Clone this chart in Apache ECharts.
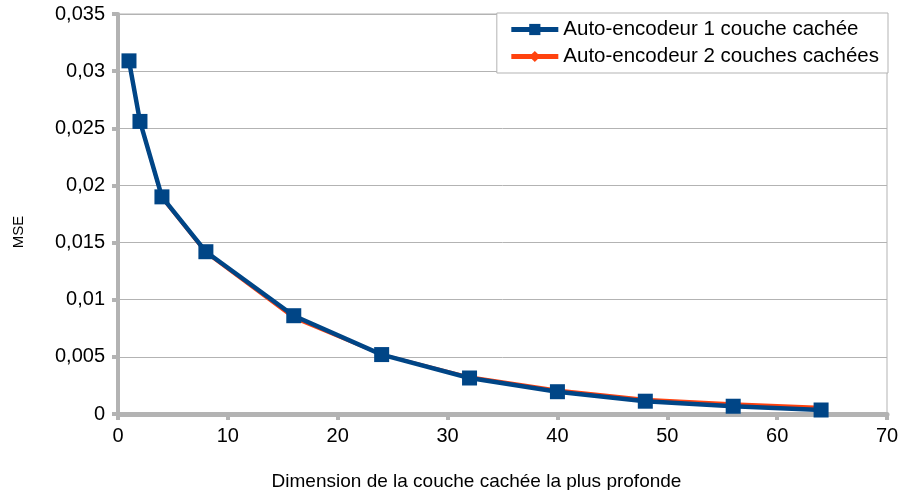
<!DOCTYPE html>
<html><head><meta charset="utf-8">
<script src="https://cdn.jsdelivr.net/npm/echarts@6/dist/echarts.min.js"></script>
<style>html,body{margin:0;padding:0;background:#fff}#c{width:901px;height:490px}</style>
</head><body><div id="c"></div>
<script>
const dims = [1, 2, 4, 8, 16, 24, 32, 40, 48, 56, 64];
const mse1 = [0.0309, 0.0256, 0.0190, 0.0142, 0.0086, 0.0052, 0.00315, 0.00195, 0.00112, 0.00068, 0.00035];
const mse2 = [0.0309, 0.0256, 0.0189, 0.0141, 0.0084, 0.0052, 0.00325, 0.0021, 0.0013, 0.0009, 0.0006];
const seriesNames = ['Auto-encodeur 1 couche cachée', 'Auto-encodeur 2 couches cachées'];
const xName = 'Dimension de la couche cachée la plus profonde';
const yName = 'MSE';

const chart = echarts.init(document.getElementById('c'));
const font = 'Liberation Sans';
const axisGray = '#b3b3b3';
chart.setOption({
  animation: false,
  textStyle: { fontFamily: font },
  grid: { left: 118, right: 14, top: 14, bottom: 76, outerBoundsMode: 'none', containLabel: false,
    show: true, borderColor: axisGray, borderWidth: 1 },
  legend: {
    right: 13, top: 13, orient: 'vertical', itemGap: 6, itemWidth: 47, itemHeight: 14,
    backgroundColor: '#fff', borderColor: '#b3b3b3', borderWidth: 1, padding: [6, 9, 6, 12],
    textStyle: { fontSize: 20.5, color: '#000', fontFamily: font },
    data: [
      { name: seriesNames[0], lineStyle: { width: 5 } },
      { name: seriesNames[1], lineStyle: { width: 5 } }
    ]
  },
  xAxis: {
    type: 'value', min: 0, max: 70, interval: 10,
    name: xName, nameLocation: 'middle', nameGap: 58,
    nameTextStyle: { fontSize: 19, color: '#000', padding: [0, 52, 0, 0] },
    axisLine: { show: true, lineStyle: { color: axisGray, width: 5 } },
    axisTick: { show: true, length: 6, lineStyle: { color: axisGray, width: 4 } },
    axisLabel: { fontSize: 20, color: '#000', margin: 12 },
    splitLine: { show: false }
  },
  yAxis: {
    type: 'value', min: 0, max: 0.035, interval: 0.005,
    name: yName, nameLocation: 'middle', nameGap: 92, nameRotate: 90,
    nameTextStyle: { fontSize: 15, color: '#000', padding: [0, 36, 0, 0] },
    axisLine: { show: true, lineStyle: { color: axisGray, width: 4 } },
    axisTick: { show: true, length: 6, lineStyle: { color: axisGray, width: 4 } },
    axisLabel: { fontSize: 20, color: '#000', margin: 13, formatter: v => String(+v.toFixed(3)).replace('.', ',') },
    splitLine: { show: true, lineStyle: { color: '#b3b3b3', width: 1 } }
  },
  series: [
    {
      name: seriesNames[1], type: 'line', data: dims.map((d, i) => [d, mse2[i]]),
      symbol: 'diamond', symbolSize: 8, color: '#ff420e',
      lineStyle: { width: 3, color: '#ff420e' }, itemStyle: { color: '#ff420e' }, z: 2
    },
    {
      name: seriesNames[0], type: 'line', data: dims.map((d, i) => [d, mse1[i]]),
      symbol: 'rect', symbolSize: 15, color: '#004586',
      lineStyle: { width: 4.5, color: '#004586' }, itemStyle: { color: '#004586' }, z: 3
    }
  ]
});
</script></body></html>
